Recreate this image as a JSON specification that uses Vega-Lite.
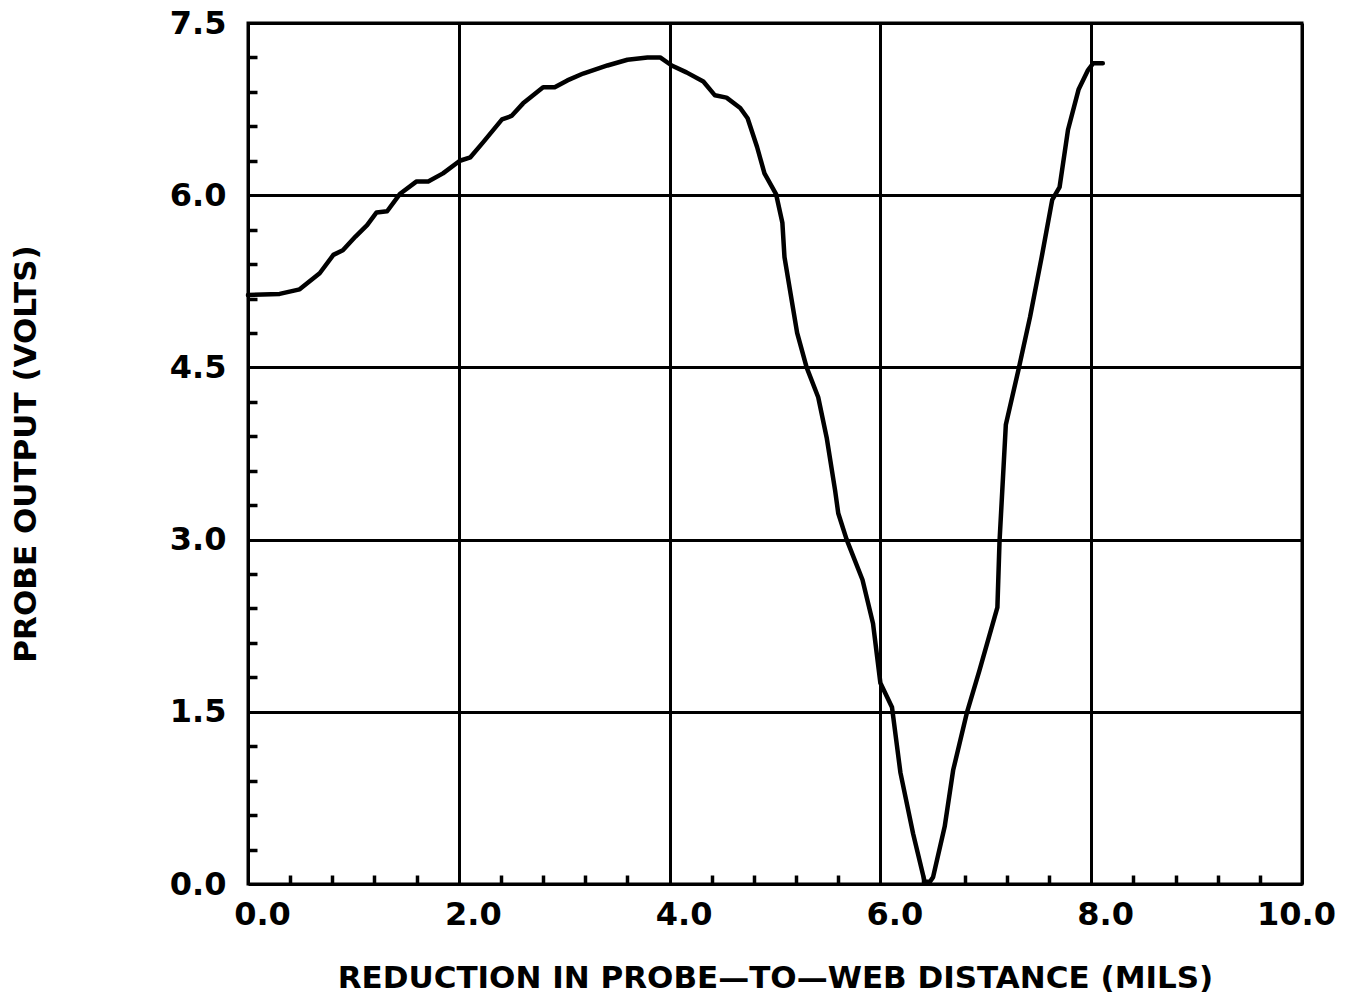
{
  "$schema": "https://vega.github.io/schema/vega-lite/v6.json",
  "width": 1054,
  "height": 861,
  "autosize": {"type": "none"},
  "padding": {"left": 248, "top": 23, "right": 50, "bottom": 120},
  "background": "white",
  "config": {
    "view": {"stroke": "black", "strokeWidth": 3},
    "axis": {
      "labelFont": "DejaVu Sans",
      "labelFontWeight": "bold",
      "labelFontSize": 32,
      "labelColor": "black",
      "labelFlush": false,
      "titleFont": "DejaVu Sans",
      "titleFontWeight": "bold",
      "titleFontSize": 31,
      "titleColor": "black",
      "gridColor": "black",
      "gridOpacity": 1,
      "gridWidth": 3,
      "tickColor": "black",
      "tickWidth": 3.5,
      "tickOpacity": 1,
      "domain": false
    }
  },
  "data": {
    "values": [
      {"x": 0.00, "y": 5.13}, {"x": 0.30, "y": 5.14}, {"x": 0.49, "y": 5.18},
      {"x": 0.68, "y": 5.32}, {"x": 0.81, "y": 5.48}, {"x": 0.90, "y": 5.52},
      {"x": 1.02, "y": 5.64}, {"x": 1.13, "y": 5.74}, {"x": 1.22, "y": 5.85},
      {"x": 1.32, "y": 5.86}, {"x": 1.44, "y": 6.01}, {"x": 1.60, "y": 6.12},
      {"x": 1.71, "y": 6.12}, {"x": 1.85, "y": 6.19}, {"x": 2.01, "y": 6.30},
      {"x": 2.11, "y": 6.33}, {"x": 2.23, "y": 6.46}, {"x": 2.41, "y": 6.66},
      {"x": 2.50, "y": 6.69}, {"x": 2.61, "y": 6.80}, {"x": 2.80, "y": 6.94},
      {"x": 2.91, "y": 6.94}, {"x": 3.03, "y": 7.00}, {"x": 3.18, "y": 7.06},
      {"x": 3.41, "y": 7.13}, {"x": 3.60, "y": 7.18}, {"x": 3.79, "y": 7.20},
      {"x": 3.91, "y": 7.20}, {"x": 4.02, "y": 7.13}, {"x": 4.16, "y": 7.07},
      {"x": 4.32, "y": 6.99}, {"x": 4.43, "y": 6.87}, {"x": 4.54, "y": 6.85},
      {"x": 4.67, "y": 6.76}, {"x": 4.74, "y": 6.67}, {"x": 4.83, "y": 6.42},
      {"x": 4.90, "y": 6.19}, {"x": 5.01, "y": 6.01}, {"x": 5.07, "y": 5.76},
      {"x": 5.09, "y": 5.46}, {"x": 5.21, "y": 4.80}, {"x": 5.30, "y": 4.50},
      {"x": 5.41, "y": 4.24}, {"x": 5.49, "y": 3.89}, {"x": 5.57, "y": 3.43},
      {"x": 5.60, "y": 3.23}, {"x": 5.68, "y": 3.00}, {"x": 5.83, "y": 2.65},
      {"x": 5.93, "y": 2.27}, {"x": 6.00, "y": 1.75}, {"x": 6.11, "y": 1.54},
      {"x": 6.19, "y": 0.97}, {"x": 6.31, "y": 0.44}, {"x": 6.42, "y": 0.02},
      {"x": 6.47, "y": 0.02}, {"x": 6.50, "y": 0.06}, {"x": 6.61, "y": 0.50},
      {"x": 6.69, "y": 0.99}, {"x": 6.82, "y": 1.49}, {"x": 6.94, "y": 1.86},
      {"x": 7.11, "y": 2.41}, {"x": 7.13, "y": 2.98}, {"x": 7.19, "y": 4.00},
      {"x": 7.31, "y": 4.48}, {"x": 7.42, "y": 4.94}, {"x": 7.53, "y": 5.46},
      {"x": 7.63, "y": 5.96}, {"x": 7.70, "y": 6.07}, {"x": 7.78, "y": 6.57},
      {"x": 7.88, "y": 6.92}, {"x": 7.97, "y": 7.09}, {"x": 8.02, "y": 7.15},
      {"x": 8.11, "y": 7.15}
    ]
  },
  "layer": [
    {
      "mark": {"type": "line", "color": "black", "strokeWidth": 4.5, "strokeJoin": "round", "strokeCap": "round"},
      "encoding": {
        "x": {
          "field": "x", "type": "quantitative",
          "scale": {"domain": [0, 10], "nice": false, "zero": false},
          "axis": {
            "orient": "bottom",
            "values": [0, 2, 4, 6, 8, 10],
            "format": ".1f",
            "grid": true,
            "ticks": false,
            "tickSize": 0,
            "labelPadding": 15,
            "labelOffset": {"condition": {"test": "datum.value >= 10", "value": -6}, "value": 14},
            "title": "REDUCTION IN PROBE—TO—WEB DISTANCE (MILS)",
            "titlePadding": 33
          }
        },
        "y": {
          "field": "y", "type": "quantitative",
          "scale": {"domain": [0, 7.5], "nice": false, "zero": false},
          "axis": {
            "orient": "left",
            "values": [0, 1.5, 3, 4.5, 6, 7.5],
            "format": ".1f",
            "grid": true,
            "ticks": false,
            "tickSize": 0,
            "labelPadding": 22,
            "title": "PROBE OUTPUT (VOLTS)",
            "titlePadding": 127
          }
        }
      }
    },
    {
      "mark": {"type": "line", "opacity": 0},
      "encoding": {
        "x": {
          "field": "x", "type": "quantitative",
          "axis": {
            "orient": "bottom",
            "values": [0.4, 0.8, 1.2, 1.6, 2.4, 2.8, 3.2, 3.6, 4.4, 4.8, 5.2, 5.6, 6.4, 6.8, 7.2, 7.6, 8.4, 8.8, 9.2, 9.6],
            "labels": false,
            "grid": false,
            "ticks": true,
            "tickSize": -9,
            "title": null
          }
        },
        "y": {
          "field": "y", "type": "quantitative",
          "axis": {
            "orient": "left",
            "values": [0.3, 0.6, 0.9, 1.2, 1.8, 2.1, 2.4, 2.7, 3.3, 3.6, 3.9, 4.2, 4.8, 5.1, 5.4, 5.7, 6.3, 6.6, 6.9, 7.2],
            "labels": false,
            "grid": false,
            "ticks": true,
            "tickSize": -9,
            "title": null
          }
        }
      }
    }
  ],
  "resolve": {"axis": {"x": "independent", "y": "independent"}}
}
